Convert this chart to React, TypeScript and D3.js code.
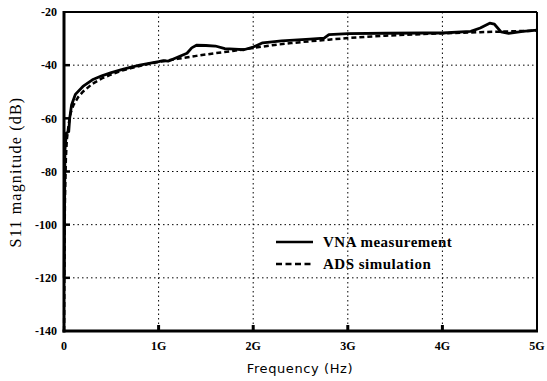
import React from "react";
import * as d3 from "d3";

const xTicks = [0, 1, 2, 3, 4, 5];
const xTickLabels = ["0", "1G", "2G", "3G", "4G", "5G"];
const yTicks = [-20, -40, -60, -80, -100, -120, -140];

const measFreq = [0.002, 0.01, 0.025, 0.05, 0.06, 0.08, 0.12, 0.2, 0.3, 0.4, 0.5, 0.6, 0.7, 0.8, 0.9, 1.0, 1.05, 1.1, 1.2, 1.3, 1.35, 1.4, 1.5, 1.6, 1.7, 1.8, 1.9, 2.0, 2.1, 2.3, 2.6, 2.75, 2.8, 3.0, 3.4, 3.8, 4.0, 4.3, 4.4, 4.5, 4.55, 4.62, 4.7, 4.85, 5.0];
const measDb = [-120, -72, -65.5, -65, -60, -55, -51, -48, -45.5, -44, -42.8, -41.8, -40.8, -40, -39.3, -38.7, -38.3, -38.5, -37, -35.5, -33.5, -32.5, -32.6, -32.8, -33.8, -34, -34.2, -33.2, -31.6, -30.9, -30.2, -29.8, -28.5, -28.1, -28, -27.9, -27.9, -27.3, -26, -24.2, -24.6, -27.5, -28, -27.3, -26.8];

const simFreq = [0.001, 0.005, 0.01, 0.02, 0.03, 0.05, 0.07, 0.1, 0.15, 0.2, 0.3, 0.4, 0.5, 0.6, 0.7, 0.8, 0.9, 1.0, 1.2, 1.4, 1.6, 1.8, 2.0, 2.2, 2.4, 2.6, 2.8, 3.0, 3.2, 3.4, 3.6, 3.8, 4.0, 4.2, 4.4, 4.6, 4.8, 5.0];
const simDb = [-140, -110, -90, -75, -68, -62, -58, -55, -52, -50, -47, -45, -43.5, -42.2, -41.2, -40.3, -39.5, -38.8, -37.6, -36.5, -35.5, -34.6, -33.5, -32.5, -31.7, -31, -30.4, -29.8, -29.3, -28.9, -28.6, -28.3, -28, -27.8, -27.6, -27.4, -27.2, -27];

const seriesNames = ["VNA measurement", "ADS simulation"];

export default function App() {
  const W = 547, H = 381;
  const L = 64, R = 537, T = 12, B = 331;
  const x = d3.scaleLinear().domain([0, 5]).range([L, R]);
  const y = d3.scaleLinear().domain([-140, -20]).range([B, T]);
  const line = d3.line<[number, number]>().x(d => x(d[0])).y(d => y(d[1]));
  const meas = measFreq.map((f, i) => [f, measDb[i]] as [number, number]);
  const sim = simFreq.map((f, i) => [f, simDb[i]] as [number, number]);
  const font = "'Liberation Serif', 'Times New Roman', serif";
  return (
    <svg width={W} height={H} style={{ position: "absolute", left: 0, top: 0, background: "#fff" }}>
      <rect x={0} y={0} width={W} height={H} fill="#fff" />
      {xTicks.slice(1, -1).map(t => (
        <line key={"gx" + t} x1={x(t)} x2={x(t)} y1={T} y2={B} stroke="#000" strokeWidth={1} strokeDasharray="1.5,3" />
      ))}
      {yTicks.slice(1, -1).map(t => (
        <line key={"gy" + t} x1={L} x2={R} y1={y(t)} y2={y(t)} stroke="#000" strokeWidth={1} strokeDasharray="1.5,3" />
      ))}
      {xTicks.slice(1, -1).map(t => (
        <line key={"tx" + t} x1={x(t)} x2={x(t)} y1={B} y2={B - 6} stroke="#000" strokeWidth={3} />
      ))}
      {yTicks.slice(1, -1).map(t => (
        <line key={"ty" + t} x1={L} x2={L + 6} y1={y(t)} y2={y(t)} stroke="#000" strokeWidth={2.5} />
      ))}
      <path d={line(sim) || ""} fill="none" stroke="#000" strokeWidth={2.5} strokeDasharray="5,3" />
      <path d={line(meas) || ""} fill="none" stroke="#000" strokeWidth={2.8} strokeLinejoin="round" />
      <line x1={L} x2={R} y1={T} y2={T} stroke="#000" strokeWidth={2} />
      <line x1={R} x2={R} y1={T} y2={B} stroke="#000" strokeWidth={2} />
      <line x1={L} x2={L} y1={T - 1} y2={B + 1.5} stroke="#000" strokeWidth={3} />
      <line x1={L - 1.5} x2={R + 1} y1={B} y2={B} stroke="#000" strokeWidth={3} />
      {yTicks.map(t => (
        <text key={"ly" + t} x={L - 7} y={y(t)} dy="0.35em" textAnchor="end" fontFamily={font} fontWeight="bold" fontSize={12}>{t}</text>
      ))}
      {xTicks.map((t, i) => (
        <text key={"lx" + t} x={x(t)} y={B + 19} textAnchor="middle" fontFamily={font} fontWeight="bold" fontSize={12}>{xTickLabels[i]}</text>
      ))}
      <text x={300} y={373} textAnchor="middle" fontFamily="'DejaVu Sans', sans-serif" fontSize={13} letterSpacing={0.6}>Frequency (Hz)</text>
      <text transform={`translate(21,${172}) rotate(-90)`} textAnchor="middle" fontFamily={font} fontSize={16} letterSpacing={1.2}>S11 magnitude (dB)</text>
      <line x1={276} x2={313} y1={242} y2={242} stroke="#000" strokeWidth={2.5} />
      <text x={323} y={242} dy="0.35em" fontFamily={font} fontWeight="bold" fontSize={15} letterSpacing={0.5}>{seriesNames[0]}</text>
      <line x1={276} x2={313} y1={264} y2={264} stroke="#000" strokeWidth={2.5} strokeDasharray="6,3.5" />
      <text x={323} y={264} dy="0.35em" fontFamily={font} fontWeight="bold" fontSize={15} letterSpacing={0.5}>{seriesNames[1]}</text>
    </svg>
  );
}
